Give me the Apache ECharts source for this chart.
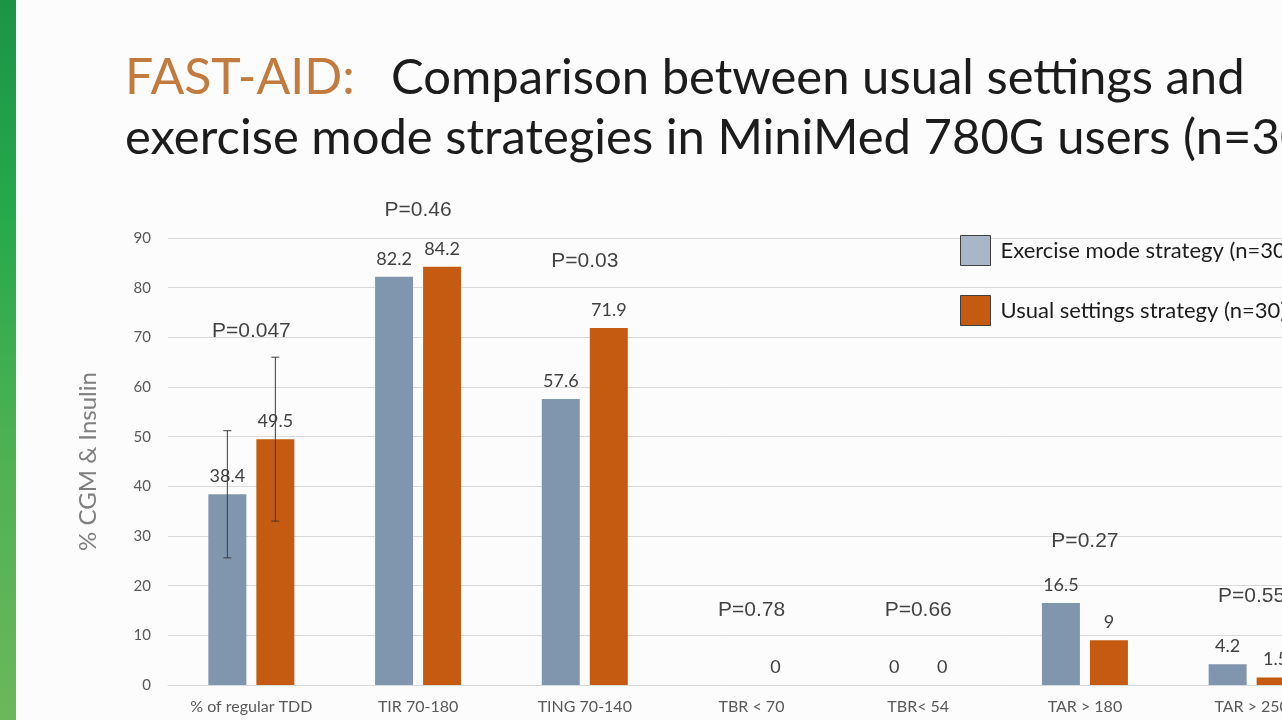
<!DOCTYPE html>
<html>
<head>
<meta charset="utf-8">
<script src="https://cdn.jsdelivr.net/npm/echarts@6/dist/echarts.min.js"></script>
<style>
    html, body {margin: 0; padding: 0; background: #fcfcfc;}
    #wrap {position: relative; width: 1282px; height: 720px; overflow: hidden;}
    #strip {position: absolute; left: 0; top: 0; width: 16px; height: 720px;
        background: linear-gradient(180deg, #1c9446 0%, #26a94c 30%, #4bb152 60%, #6cb75c 100%);}
    #chart {position: absolute; left: 0; top: 0; width: 1282px; height: 720px;}
</style>
</head>
<body>
<div id="wrap">
    <div id="strip"></div>
    <div id="chart"></div>
</div>
<script>
// data
var categories = ['% of regular TDD', 'TIR 70-180', 'TING 70-140', 'TBR < 70', 'TBR< 54', 'TAR > 180', 'TAR > 250'];
var exerciseMode = [38.4, 82.2, 57.6, null, 0, 16.5, 4.2];
var usualSettings = [49.5, 84.2, 71.9, 0, 0, 9, 1.5];
var exerciseSd = [12.8, null, null, null, null, null, null];
var usualSd = [16.5, null, null, null, null, null, null];
var pLabels = ['P=0.047', 'P=0.46', 'P=0.03', 'P=0.78', 'P=0.66', 'P=0.27', 'P=0.55'];
var pHeights = [71.3, 95.6, 85.4, 15.1, 15.1, 29.0, 17.9];
var yTicks = {min: 0, max: 90, interval: 10};
var seriesNames = ['Exercise mode strategy (n=30)', 'Usual settings strategy (n=30)'];

var BAR_W = 38, BAR_GAP = 10;
var greyBar = '#8096ae', orangeBar = '#c55a11';

var myChart = echarts.init(document.getElementById('chart'));

function errData(mean, sd) {
    let out = [];
    for (let i = 0; i < mean.length; i++) {
        if (sd[i] != null && mean[i] != null) {
            out.push([i, mean[i] - sd[i], mean[i] + sd[i]]);
        }
    }
    return out;
}

function errRender(side) {
    return function (params, api) {
        let lo = api.coord([api.value(0), api.value(1)]);
        let hi = api.coord([api.value(0), api.value(2)]);
        let x = lo[0] + side * (BAR_W + BAR_GAP) / 2;
        let cap = 4;
        let st = {stroke: '#3a3a3a', lineWidth: 1};
        return {
            type: 'group',
            children: [
                {type: 'line', shape: {x1: x, y1: lo[1], x2: x, y2: hi[1]}, style: st},
                {type: 'line', shape: {x1: x - cap, y1: lo[1], x2: x + cap, y2: lo[1]}, style: st},
                {type: 'line', shape: {x1: x - cap, y1: hi[1], x2: x + cap, y2: hi[1]}, style: st}
            ]
        };
    };
}

var pData = [];
for (let i = 0; i < pLabels.length; i++) {
    pData.push({value: [i, pHeights[i]], name: pLabels[i]});
}

var barLabel = {
    show: true,
    position: 'top',
    distance: 9,
    color: '#404040',
    fontSize: 18,
    fontFamily: 'Lato'
};

myChart.setOption({
    animation: false,
    backgroundColor: 'transparent',
    title: {
        left: 120,
        top: 43,
        text: '{o|FAST-AID:}{d|Comparison between usual settings and}\n{d|exercise mode strategies in MiniMed 780G users (n=30)}',
        textStyle: {
            fontWeight: 'normal',
            rich: {
                o: {color: '#c27b3e', fontSize: 50, fontFamily: 'Lato', fontWeight: 'normal', lineHeight: 60, width: 266},
                d: {color: '#1c1c1c', fontSize: 49, fontFamily: 'Lato', fontWeight: 'normal', lineHeight: 60}
            }
        }
    },
    legend: {
        orient: 'vertical',
        left: 955,
        top: 230,
        itemWidth: 30,
        itemHeight: 30,
        itemGap: 29,
        selectedMode: false,
        icon: 'rect',
        data: [
            {name: seriesNames[0], itemStyle: {color: '#a9b6c7', borderColor: '#3f3f3f', borderWidth: 1}},
            {name: seriesNames[1], itemStyle: {color: orangeBar, borderColor: '#3f3f3f', borderWidth: 1}}
        ],
        textStyle: {color: '#1c1c1c', fontSize: 22, fontFamily: 'Lato', padding: [0, 0, 0, 5]}
    },
    grid: {left: 168, right: -53, top: 238, bottom: 35, outerBoundsMode: 'none', containLabel: false},
    xAxis: {
        type: 'category',
        data: categories,
        axisLine: {lineStyle: {color: '#d9d9d9', width: 1}},
        axisTick: {show: false},
        axisLabel: {color: '#595959', fontSize: 16, fontFamily: 'Lato', margin: 14, interval: 0}
    },
    yAxis: {
        type: 'value',
        min: yTicks.min,
        max: yTicks.max,
        interval: yTicks.interval,
        name: '% CGM & Insulin',
        nameLocation: 'middle',
        nameRotate: 90,
        nameGap: 68,
        nameTextStyle: {color: '#7f7f7f', fontSize: 24, fontFamily: 'Lato'},
        axisLine: {show: false},
        axisTick: {show: false},
        splitLine: {lineStyle: {color: '#d9d9d9', width: 1}},
        axisLabel: {color: '#595959', fontSize: 15, fontFamily: 'Lato', margin: 17}
    },
    series: [
        {
            name: seriesNames[0],
            type: 'bar',
            data: exerciseMode,
            barWidth: BAR_W,
            barGap: (BAR_GAP / BAR_W * 100) + '%',
            itemStyle: {color: greyBar},
            label: barLabel
        },
        {
            name: seriesNames[1],
            type: 'bar',
            data: usualSettings,
            barWidth: BAR_W,
            itemStyle: {color: orangeBar},
            label: barLabel
        },
        {
            type: 'custom',
            renderItem: errRender(-1),
            data: errData(exerciseMode, exerciseSd),
            z: 5
        },
        {
            type: 'custom',
            renderItem: errRender(1),
            data: errData(usualSettings, usualSd),
            z: 5
        },
        {
            type: 'scatter',
            data: pData,
            symbolSize: 0,
            clip: false,
            silent: true,
            z: 6,
            label: {
                show: true,
                position: 'inside',
                formatter: function (p) { return p.name; },
                color: '#111111',
                fontSize: 21,
                fontFamily: 'Liberation Sans'
            }
        }
    ]
});

window.onresize = function () {
    myChart.resize();
}
</script>
</body>
</html>
